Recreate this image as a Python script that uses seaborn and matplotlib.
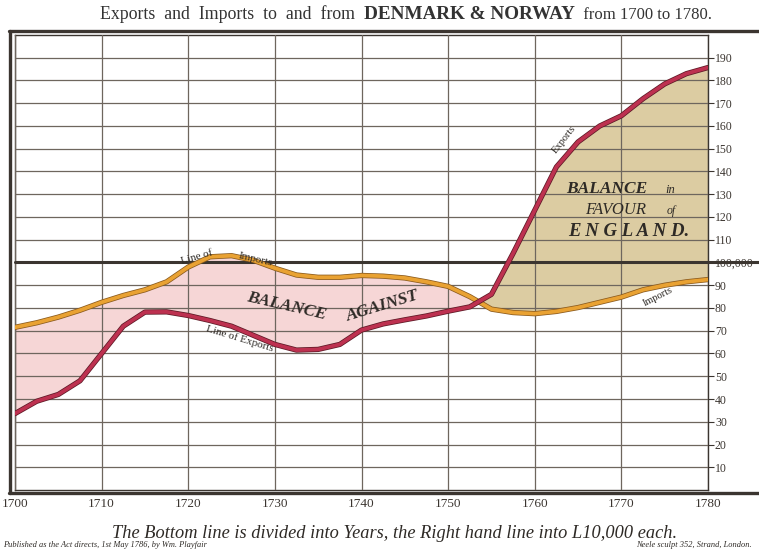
import numpy as np
import pandas as pd
import matplotlib
matplotlib.use("Agg")
import matplotlib.pyplot as plt
import matplotlib.patheffects as pe
from matplotlib.lines import Line2D
import seaborn as sns

# values (units of L1,000)
years = [1700, 1702.5, 1705, 1707.5, 1710, 1712.5, 1715, 1717.5, 1720, 1722.5,
         1725, 1727.5, 1730, 1732.5, 1735, 1737.5, 1740, 1742.5, 1745, 1747.5,
         1750, 1752.5, 1755, 1757.5, 1760, 1762.5, 1765, 1767.5, 1770, 1772.5,
         1775, 1777.5, 1780]
exports = [33.6, 39, 42, 48, 60, 72, 78.2, 78.3, 76.7, 74.5,
           72, 68, 64, 61.5, 61.8, 64, 70.3, 73, 74.8, 76.5,
           78.6, 80.5, 86, 104, 123, 142, 153, 160, 164.5, 172,
           178.5, 183, 185.7]
imports = [71.5, 73.5, 76, 79, 82.5, 85.5, 88, 91.5, 98, 102.5,
           103, 101, 97.5, 94.5, 93.5, 93.5, 94.3, 94, 93.2, 91.5,
           89.5, 85, 79.5, 78, 77.5, 78.5, 80.2, 82.5, 84.8, 88,
           90, 91.5, 92.5]
year_ticks = list(range(1700, 1781, 10))
value_ticks = list(range(10, 200, 10))
value_labels = ["100,000" if v == 100 else str(v) for v in value_ticks]

df = pd.DataFrame({"Year": years, "Exports": exports, "Imports": imports})

sns.set_style("white")
plt.rcParams["font.family"] = ["Liberation Serif", "DejaVu Serif"]

W, H = 759, 553
fig = plt.figure(figsize=(W / 100, H / 100), dpi=100)
ax = fig.add_axes([15 / W, (H - 490) / H, (708 - 15) / W, (490 - 35) / H])

ink = "#3b3530"
gridc = "#6e665e"

# shaded balance
ax.fill_between(df["Year"], df["Exports"], df["Imports"],
                where=df["Imports"] >= df["Exports"], interpolate=True,
                color="#f6d6d6", lw=0, zorder=1)
ax.fill_between(df["Year"], df["Exports"], df["Imports"],
                where=df["Exports"] >= df["Imports"], interpolate=True,
                color="#dccca2", lw=0, zorder=1)

# the two lines
sns.lineplot(data=df, x="Year", y="Imports", ax=ax, color="#e9a233", lw=2.7,
             zorder=4, solid_joinstyle="round", solid_capstyle="round",
             path_effects=[pe.Stroke(linewidth=3.8, foreground="#8a5a1e"), pe.Normal()])
sns.lineplot(data=df, x="Year", y="Exports", ax=ax, color="#bd3150", lw=2.7,
             zorder=5, solid_joinstyle="round", solid_capstyle="round",
             path_effects=[pe.Stroke(linewidth=3.8, foreground="#5e1a26"), pe.Normal()])

ax.set_xlim(1700, 1780)
ax.set_ylim(0, 200)
ax.set_xlabel("")
ax.set_ylabel("")

ax.grid(True, color=gridc, lw=0.9, zorder=2)
ax.set_axisbelow(False)
ax.axhline(100, xmin=0, xmax=1.075, color=ink, lw=2.2, zorder=3, clip_on=False)

ax.set_xticks(year_ticks)
ax.set_xticklabels([str(y) for y in year_ticks])
ax.tick_params(axis="x", length=0, pad=6, labelsize=9.5, colors=ink)
ax.yaxis.tick_right()
ax.set_yticks(value_ticks)
ax.set_yticklabels(value_labels)
ax.tick_params(axis="y", length=4, width=0.8, pad=1, labelsize=8.5, colors=ink)

for side in ["left", "top", "bottom", "right"]:
    ax.spines[side].set_visible(True)
    ax.spines[side].set_color(ink)
    ax.spines[side].set_linewidth(1.0)

# outer frame of the plate
fx = lambda p: p / W
fy = lambda p: 1 - p / H
fig.add_artist(Line2D([fx(9.5), fx(9.5)], [fy(30.5), fy(493)], color=ink, lw=2.4))
fig.add_artist(Line2D([fx(8.5), 1], [fy(30.5), fy(30.5)], color=ink, lw=2.4))
fig.add_artist(Line2D([fx(8.5), 1], [fy(493), fy(493)], color=ink, lw=2.4))

# annotations on the chart
txt = dict(color="#2e2a26", zorder=6)
ax.text(1721.0, 102.5, "Line of", fontsize=8, rotation=16, ha="center", va="center", **txt)
ax.text(1727.8, 101.5, "Imports", fontsize=8, rotation=-13, ha="center", va="center", **txt)
ax.text(1726.0, 66.5, "Line of Exports", fontsize=8, rotation=-17, ha="center", va="center", **txt)
ax.text(1731.4, 80.6, "BALANCE", fontsize=12.5, style="italic", weight="bold",
        rotation=-13, ha="center", va="center", **txt)
ax.text(1742.4, 80.6, "AGAINST", fontsize=12.5, style="italic", weight="bold",
        rotation=17, ha="center", va="center", **txt)
ax.text(1763.4, 154, "Exports", fontsize=7.5, rotation=52, ha="center", va="center", **txt)
ax.text(1774.2, 85.0, "Imports", fontsize=7.5, rotation=27, ha="center", va="center", **txt)

ax.text(1768.3, 132.5, "BALANCE", fontsize=12.5, style="italic", weight="bold",
        ha="center", va="center", **txt)
ax.text(1775.6, 132.0, "in", fontsize=9, style="italic", ha="center", va="center", **txt)
ax.text(1769.3, 123.0, "FAVOUR", fontsize=12, style="italic", ha="center", va="center", **txt)
ax.text(1775.8, 122.5, "of", fontsize=8.5, style="italic", ha="center", va="center", **txt)
ax.text(1770.8, 113.5, "E N G L A N D.", fontsize=13.5, style="italic", weight="bold",
        ha="center", va="center", **txt)

# title, built from pieces
renderer = fig.canvas.get_renderer()
pieces = [("Exports  and  Imports  to  and  from  ", 12.8, "normal"),
          ("DENMARK & NORWAY", 13.8, "bold"),
          ("  from 1700 to 1780.", 12.0, "normal")]
x = fx(100)
for s, size, weight in pieces:
    t = fig.text(x, fy(19), s, fontsize=size, weight=weight, color="#333", va="baseline")
    x += t.get_window_extent(renderer).width / W

fig.text(fx(395), fy(533), "The Bottom line is divided into Years, the Right hand line into L10,000 each.",
         fontsize=13.2, style="italic", ha="center", va="center", color="#2e2a26")
fig.text(fx(3), fy(545), "Published as the Act directs, 1st May 1786, by Wm. Playfair",
         fontsize=6, style="italic", ha="left", va="center", color="#2e2a26")
fig.text(fx(752), fy(545), "Neele sculpt 352, Strand, London.",
         fontsize=6, style="italic", ha="right", va="center", color="#2e2a26")

fig.savefig("out.png", dpi=100, facecolor="white")
